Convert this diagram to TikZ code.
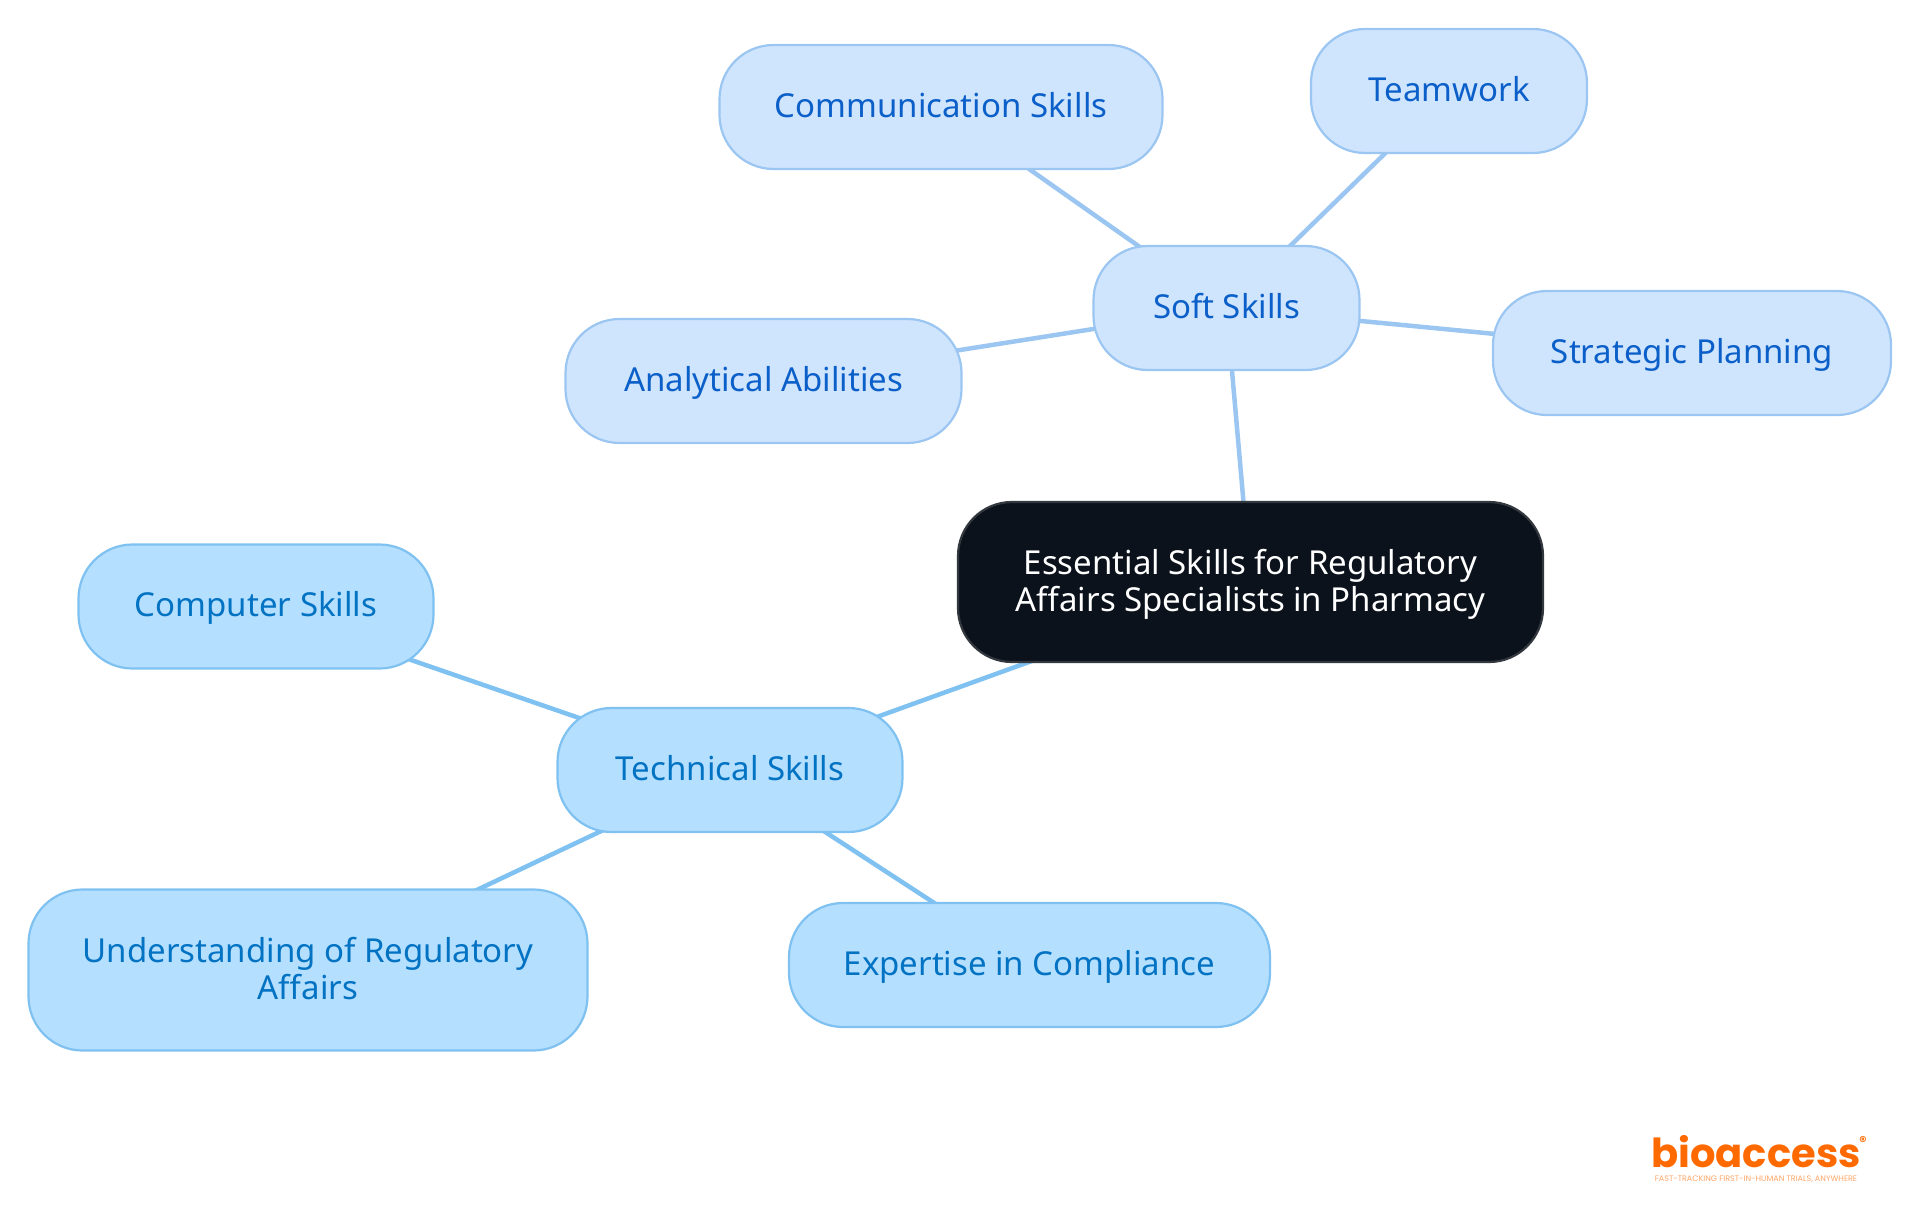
\documentclass[tikz,border=0pt]{standalone}
\usepackage{fontspec}
\setmainfont{Noto Sans}
\newfontfamily\logofont{Poppins}
\usetikzlibrary{backgrounds}

\definecolor{softfill}{HTML}{CFE4FD}
\definecolor{softline}{HTML}{9CC6F2}
\definecolor{softtext}{HTML}{0B5FC9}
\definecolor{techfill}{HTML}{B5DFFF}
\definecolor{techline}{HTML}{7FC1F0}
\definecolor{techtext}{HTML}{0272C3}
\definecolor{rootfill}{HTML}{0B121B}
\definecolor{rootline}{HTML}{33383F}
\definecolor{logoorange}{HTML}{FF6A00}

\tikzset{
    skillbox/.style={draw, line width=2.2pt, rounded corners=54pt, align=center,
        inner sep=0pt, font=\fontsize{33}{37}\selectfont,
        execute at begin node=\rule{0pt}{32pt}, execute at end node=\strut},
    softbox/.style={skillbox, fill=softfill, draw=softline, text=softtext},
    techbox/.style={skillbox, fill=techfill, draw=techline, text=techtext},
    rootbox/.style={skillbox, fill=rootfill, draw=rootline, text=white},
    softedge/.style={draw=softline, line width=4.5pt},
    techedge/.style={draw=techline, line width=4.5pt}
}

\begin{document}
\begin{tikzpicture}[x=1pt,y=-1pt]
    \useasboundingbox (0,0) rectangle (1920,1215);

    % Central node
    \node[rootbox, minimum width=585pt, minimum height=160pt] (root) at (1250.5,582) {\rule{0pt}{33pt}Essential Skills for Regulatory\\Affairs Specialists in Pharmacy};

    % Soft skills branch
    \node[softbox, minimum width=266pt, minimum height=124pt] (soft) at (1226.5,308) {Soft Skills};
    \node[softbox, minimum width=443pt, minimum height=124pt] (communication) at (941,107) {Communication Skills};
    \node[softbox, minimum width=276pt, minimum height=124pt] (teamwork) at (1449,91) {Teamwork};
    \node[softbox, minimum width=398pt, minimum height=124pt] (strategic) at (1692,353) {Strategic Planning};
    \node[softbox, minimum width=396pt, minimum height=124pt] (analytical) at (763.5,381) {Analytical Abilities};

    % Technical skills branch
    \node[techbox, minimum width=345pt, minimum height=124pt] (technical) at (730,770) {Technical Skills};
    \node[techbox, minimum width=355pt, minimum height=124pt] (computer) at (256,606.5) {Computer Skills};
    \node[techbox, minimum width=559pt, minimum height=161pt] (understanding) at (308,970) {\rule{0pt}{33pt}Understanding of Regulatory\\Affairs};
    \node[techbox, minimum width=481pt, minimum height=124pt] (expertise) at (1029.5,965) {Expertise in Compliance};

    % Connectors
    \begin{scope}[on background layer]
        \draw[softedge] (root.center) -- (soft.center);
        \draw[softedge] (soft.center) -- (communication.center);
        \draw[softedge] (soft.center) -- (teamwork.center);
        \draw[softedge] (soft.center) -- (strategic.center);
        \draw[softedge] (soft.center) -- (analytical.center);
        \draw[techedge] (root.center) -- (technical.center);
        \draw[techedge] (technical.center) -- (computer.center);
        \draw[techedge] (technical.center) -- (understanding.center);
        \draw[techedge] (technical.center) -- (expertise.center);
    \end{scope}

    % Logo
    \node[text=logoorange, inner sep=0pt, anchor=base, text depth=0pt, font=\logofont\bfseries\fontsize{40}{40}\selectfont] (logo) at (1756,1167) {bioaccess};
    \node[text=logoorange, inner sep=0pt, font=\logofont\bfseries\fontsize{14}{14}\selectfont] (registered) at (1863,1141) {®};
    \node[text=logoorange!60, inner sep=0pt, font=\logofont\fontsize{8}{8}\selectfont] (tagline) at (1756,1179) {FAST-TRACKING FIRST-IN-HUMAN TRIALS, ANYWHERE};
\end{tikzpicture}
\end{document}
